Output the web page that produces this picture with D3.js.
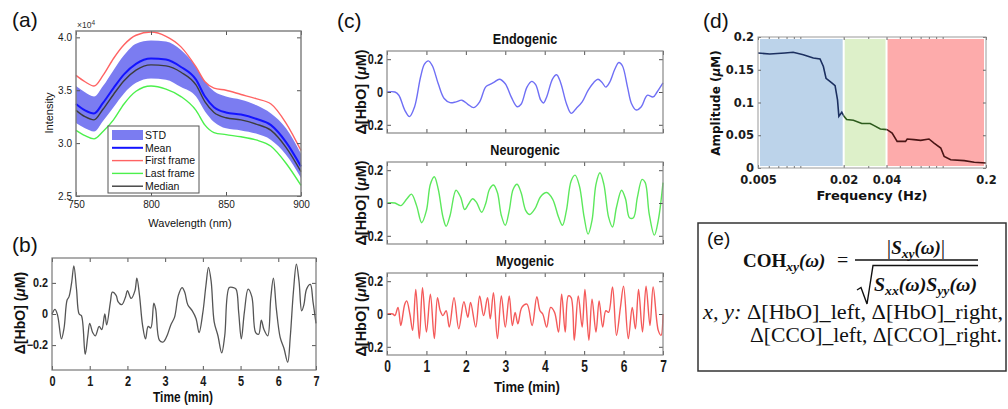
<!DOCTYPE html>
<html>
<head>
<meta charset="utf-8">
<script src="https://cdn.jsdelivr.net/npm/d3@7"></script>
<style>
  body { margin: 0; background: #fff; }
  svg { display: block; }
</style>
</head>
<body>
<svg id="fig" width="1008" height="409"></svg>
<script>
// ---------- data ----------
// (a) spectra, intensity in units of 1e4
const wavelengths = [750, 756, 762, 768, 775, 782, 790, 800, 810, 820, 830, 836, 842, 850, 860, 870, 880, 890, 900];
const firstFrame = [3.64, 3.58, 3.54, 3.64, 3.80, 3.93, 4.02, 4.05, 4.01, 3.91, 3.72, 3.58, 3.52, 3.50, 3.46, 3.42, 3.37, 3.19, 2.93];
const meanSpec   = [3.37, 3.31, 3.28, 3.38, 3.52, 3.65, 3.75, 3.80, 3.79, 3.72, 3.60, 3.44, 3.34, 3.29, 3.27, 3.23, 3.17, 3.01, 2.78];
const medianSpec = [3.31, 3.25, 3.22, 3.32, 3.46, 3.59, 3.69, 3.74, 3.73, 3.67, 3.55, 3.39, 3.29, 3.24, 3.22, 3.18, 3.12, 2.96, 2.73];
const lastFrame  = [3.12, 3.07, 3.04, 3.11, 3.22, 3.37, 3.49, 3.54, 3.51, 3.44, 3.31, 3.17, 3.10, 3.08, 3.06, 3.03, 2.97, 2.81, 2.60];
const stdUpper   = [3.54, 3.48, 3.44, 3.54, 3.69, 3.83, 3.94, 3.97, 3.96, 3.88, 3.72, 3.58, 3.49, 3.44, 3.41, 3.36, 3.28, 3.14, 2.90];
const stdLower   = [3.19, 3.14, 3.11, 3.21, 3.34, 3.47, 3.57, 3.61, 3.60, 3.53, 3.44, 3.30, 3.20, 3.14, 3.12, 3.09, 3.03, 2.89, 2.67];
const legendLabels = ['STD', 'Mean', 'First frame', 'Last frame', 'Median'];

// (b) raw HbO signal
const bTime = [0, 0.08, 0.15, 0.25, 0.32, 0.4, 0.45, 0.52, 0.58, 0.65, 0.72, 0.78, 0.88, 0.95, 1.0, 1.08, 1.15, 1.25, 1.32, 1.4,
  1.45, 1.55, 1.6, 1.7, 1.75, 1.85, 1.95, 2.0, 2.1, 2.2, 2.25, 2.32, 2.4, 2.48, 2.55, 2.62, 2.7, 2.75, 2.85, 2.95,
  3.05, 3.15, 3.25, 3.35, 3.45, 3.52, 3.6, 3.72, 3.82, 3.9, 4.0, 4.08, 4.15, 4.22, 4.3, 4.4, 4.5, 4.58, 4.7, 4.8,
  4.88, 4.95, 5.02, 5.1, 5.2, 5.3, 5.4, 5.48, 5.55, 5.62, 5.72, 5.8, 5.87, 5.95, 6.05, 6.15, 6.25, 6.32, 6.4, 6.48,
  6.55, 6.62, 6.68, 6.75, 6.85, 6.92, 7.0];
const bHbO = [0, 0.03, -0.01, -0.16, -0.09, 0.09, 0.11, 0.2, 0.31, 0.16, 0.0, -0.01, -0.26, -0.14, -0.06, -0.12, -0.14, -0.08, -0.1, 0.0,
  -0.07, 0.08, 0.14, 0.12, 0.08, 0.06, 0.11, 0.15, 0.10, 0.15, 0.23, 0.12, -0.07, -0.16, -0.08, -0.09, 0.07, 0.03, -0.17, -0.18,
  -0.14, -0.07, -0.02, 0.12, 0.17, 0.14, 0.06, 0.02, -0.03, -0.12, 0.01, 0.18, 0.30, 0.21, -0.05, -0.14, -0.25, -0.14, 0.17, 0.17,
  0.16, 0.01, -0.16, 0.01, 0.16, 0.11, -0.12, -0.13, -0.04, -0.1, -0.14, 0.10, 0.23, 0.03, -0.15, -0.22, -0.31, -0.14, 0.14, 0.32,
  0.21, 0.02, 0.06, 0.16, 0.19, 0.08, -0.06];

// (c) band-filtered components
const endoTime = [0, 0.2, 0.3, 0.45, 0.57, 0.7, 0.85, 0.95, 1.05, 1.15, 1.3, 1.45, 1.6, 1.75, 1.9, 2.05, 2.2, 2.35, 2.5, 2.6,
  2.72, 2.85, 3.0, 3.15, 3.3, 3.4, 3.55, 3.67, 3.77, 3.9, 3.97, 4.05, 4.2, 4.3, 4.4, 4.55, 4.67, 4.8, 4.95, 5.1,
  5.25, 5.35, 5.45, 5.55, 5.65, 5.78, 5.88, 5.97, 6.1, 6.2, 6.32, 6.45, 6.6, 6.75, 6.85, 7.0];
const endoVal = [0, 0, -0.02, -0.11, -0.15, -0.09, 0.09, 0.17, 0.19, 0.16, 0.05, -0.04, -0.065, -0.06, -0.05, -0.075, -0.095, -0.06, 0.03, 0.045,
  0.06, 0.078, 0.05, -0.03, -0.09, -0.075, 0.03, 0.065, 0.045, -0.05, -0.067, -0.03, 0.08, 0.105, 0.06, -0.07, -0.13, -0.10, -0.06, 0.01,
  0.06, 0.078, 0.06, 0.03, 0.06, 0.14, 0.18, 0.16, 0.03, -0.07, -0.11, -0.09, -0.02, -0.03, 0.0, 0.055];

const neuroTime = [0, 0.2, 0.35, 0.5, 0.62, 0.75, 0.88, 1.0, 1.1, 1.2, 1.3, 1.42, 1.5, 1.6, 1.75, 1.87, 1.97, 2.07, 2.17, 2.27,
  2.4, 2.5, 2.6, 2.7, 2.8, 2.9, 3.0, 3.1, 3.2, 3.3, 3.4, 3.52, 3.62, 3.75, 3.9, 4.05, 4.2, 4.35, 4.45, 4.55,
  4.67, 4.77, 4.88, 5.0, 5.1, 5.2, 5.3, 5.4, 5.5, 5.62, 5.72, 5.82, 5.95, 6.05, 6.15, 6.25, 6.35, 6.47, 6.55, 6.65,
  6.78, 6.88, 7.0];
const neuroVal = [0, 0, -0.016, 0.024, 0.054, -0.016, -0.12, -0.046, 0.114, 0.16, 0.084, -0.086, -0.142, -0.076, 0.078, 0.034, -0.04, -0.006, 0.026, 0.004,
  -0.056, -0.006, 0.084, 0.11, 0.064, -0.076, -0.136, -0.046, 0.084, 0.114, 0.064, -0.046, -0.07, -0.036, 0.04, 0.064, 0.024, -0.086, -0.136, -0.046,
  0.134, 0.17, 0.104, -0.086, -0.19, -0.106, 0.114, 0.184, 0.114, -0.086, -0.146, -0.026, 0.078, 0.024, -0.09, -0.09, 0.034, 0.144, 0.124, -0.066,
  -0.196, -0.106, 0.124];

const myoTime = [0, 0.15, 0.2, 0.28, 0.35, 0.45, 0.5, 0.58, 0.65, 0.73, 0.82, 0.9, 1.0, 1.1, 1.2, 1.28, 1.35, 1.42, 1.5, 1.58,
  1.7, 1.82, 1.95, 2.05, 2.12, 2.25, 2.35, 2.45, 2.55, 2.62, 2.7, 2.8, 2.9, 3.0, 3.1, 3.18, 3.25, 3.32, 3.42, 3.55,
  3.68, 3.8, 3.88, 3.95, 4.05, 4.15, 4.25, 4.35, 4.43, 4.52, 4.6, 4.67, 4.75, 4.85, 4.95, 5.02, 5.12, 5.2, 5.3, 5.38,
  5.47, 5.55, 5.62, 5.72, 5.82, 5.92, 6.0, 6.12, 6.22, 6.3, 6.38, 6.48, 6.57, 6.67, 6.75, 6.88, 6.95, 7.0];
const myoVal = [0, 0, -0.01, 0.04, -0.07, 0.06, 0.08, 0, -0.10, 0.15, -0.15, 0.16, -0.11, 0.12, -0.15, 0.10, 0.02, -0.01, 0.02, -0.08,
  0.10, -0.09, 0.075, -0.02, 0.07, -0.08, 0.11, -0.01, 0.10, -0.03, 0.13, -0.15, 0.11, -0.08, 0.11, -0.07, 0.01, -0.06, 0.04, 0.06,
  -0.07, 0.105, 0.02, 0, -0.08, 0.04, 0.01, -0.11, 0.12, -0.11, 0.11, 0.10, -0.16, 0.11, -0.08, 0.15, -0.16, 0.09, -0.11, 0.08,
  -0.08, 0.02, 0.01, 0.165, -0.13, 0.04, 0.17, -0.15, 0.04, -0.09, 0.15, -0.11, 0.17, -0.07, 0.165, -0.10, -0.13, 0];

const components = [
  { title: 'Endogenic', time: endoTime, val: endoVal, color: '#6f6ff5' },
  { title: 'Neurogenic', time: neuroTime, val: neuroVal, color: '#5ce85c' },
  { title: 'Myogenic', time: myoTime, val: myoVal, color: '#f45a5a' }
];

// (d) amplitude spectrum
const freq = [0.005, 0.00605, 0.00772, 0.00883, 0.0104, 0.01224, 0.01364, 0.0144, 0.01503, 0.0165, 0.0174, 0.0181, 0.0185, 0.0194, 0.0201,
  0.021, 0.0234, 0.0268, 0.0307, 0.0325, 0.0362, 0.0404, 0.0438, 0.0475, 0.0544, 0.0559, 0.0623, 0.0695, 0.0795, 0.0863,
  0.0962, 0.1016, 0.113, 0.1406, 0.1655, 0.2];
const amp = [0.1756, 0.174, 0.1756, 0.1766, 0.173, 0.168, 0.1664, 0.155, 0.137, 0.1298, 0.1257, 0.104, 0.079, 0.085, 0.079,
  0.074, 0.073, 0.068, 0.068, 0.065, 0.0596, 0.0585, 0.0534, 0.0407, 0.0407, 0.0443, 0.0433, 0.0422, 0.0443, 0.038,
  0.0305, 0.0178, 0.0127, 0.0112, 0.0087, 0.0076];
const bandEdges = [0.005, 0.02, 0.04, 0.2];
const bandFill = ['#bcd3ea', '#ddf0c9', '#fdabab'];
const bandLine = ['#1b2f60', '#2d5b1d', '#4a1515'];

// ---------- helpers ----------
const svg = d3.select('#fig');
const SANS = "'Liberation Sans', Arial, sans-serif";
const DEJA = "'DejaVu Sans', Verdana, sans-serif";
const SERIF = "'Liberation Serif', 'Times New Roman', serif";
const fmtSignal = d => d === 0 ? '0' : d3.format('.1f')(d);
const fmtInt = d3.format('d');

// squeeze text horizontally (the MATLAB panels use a condensed look)
function squeeze(sel, f) {
  if (!f || f === 1) return;
  sel.each(function() {
    const w = this.getComputedTextLength();
    if (w > 0) d3.select(this).attr('textLength', w * f).attr('lengthAdjust', 'spacingAndGlyphs');
  });
}

// box with inward ticks on all four sides (MATLAB style)
function frame(x, y, o) {
  const [x0, x1] = x.range();
  const [y0, y1] = y.range();
  const t = o.tick || 4;
  const g = svg.append('g');
  const gx = g.append('g').attr('transform', `translate(0,${y0})`)
    .call(d3.axisBottom(x).tickValues(o.xTicks).tickSizeInner(-t).tickSizeOuter(0)
      .tickPadding(o.xPad || 5).tickFormat(o.showX === false ? () => '' : (o.xFmt || null)));
  g.append('g').attr('transform', `translate(0,${y1})`)
    .call(d3.axisTop(x).tickValues(o.xTicks).tickSizeInner(-t).tickSizeOuter(0).tickFormat(() => ''));
  const gy = g.append('g').attr('transform', `translate(${x0},0)`)
    .call(d3.axisLeft(y).tickValues(o.yTicks).tickSizeInner(-t).tickSizeOuter(0)
      .tickPadding(o.yPad || 4).tickFormat(o.yFmt || null));
  g.append('g').attr('transform', `translate(${x1},0)`)
    .call(d3.axisRight(y).tickValues(o.yTicks).tickSizeInner(-t).tickSizeOuter(0).tickFormat(() => ''));
  g.selectAll('.domain').remove();
  g.selectAll('.tick line').attr('stroke', o.tickColor || '#555');
  g.selectAll('text')
    .attr('font-family', o.font).attr('font-weight', o.weight || 'normal').attr('fill', '#1a1a1a');
  gx.selectAll('text').attr('font-size', o.xSize || o.size);
  gy.selectAll('text').attr('font-size', o.ySize || o.size);
  squeeze(gx.selectAll('text'), o.xSq);
  squeeze(gy.selectAll('text'), o.ySq);
  g.append('rect')
    .attr('x', x0).attr('y', y1).attr('width', x1 - x0).attr('height', y0 - y1)
    .attr('fill', 'none').attr('stroke', o.boxColor || '#777').attr('stroke-width', o.boxWidth || 1.2);
  return g;
}

function label(txt, x, y, o) {
  const t = svg.append('text')
    .attr('x', x).attr('y', y)
    .attr('text-anchor', o.anchor || 'middle')
    .attr('font-family', o.font || SANS)
    .attr('font-size', o.size || 12)
    .attr('font-weight', o.weight || 'normal')
    .attr('fill', o.fill || '#111')
    .text(txt);
  if (o.rotate) t.attr('transform', `rotate(-90,${x},${y})`);
  squeeze(t, o.sq);
  return t;
}

// y label "Δ[HbO] (μM)" with italic mu
function hboLabel(x, y, size) {
  const t = svg.append('text')
    .attr('transform', `translate(${x},${y}) rotate(-90)`)
    .attr('text-anchor', 'middle')
    .attr('font-family', SANS).attr('font-size', size).attr('font-weight', 'bold').attr('fill', '#111');
  t.append('tspan').text('Δ[HbO] (');
  t.append('tspan').attr('font-style', 'italic').text('μ');
  t.append('tspan').text('M)');
}

// ---------- (a) spectra ----------
const xA = d3.scaleLinear([750, 900], [76, 301]);
const yA = d3.scaleLinear([2.5, 4.06], [196, 31]);
const specIdx = d3.range(wavelengths.length);
const lineA = arr => d3.line().x(i => xA(wavelengths[i])).y(i => yA(arr[i])).curve(d3.curveMonotoneX)(specIdx);

svg.append('path')
  .attr('d', d3.area().x(i => xA(wavelengths[i])).y0(i => yA(stdLower[i])).y1(i => yA(stdUpper[i]))
    .curve(d3.curveMonotoneX)(specIdx))
  .attr('fill', '#7b7cf1');
const specLines = [
  { data: firstFrame, color: '#ff6363', w: 1.4 },
  { data: lastFrame, color: '#4cf04c', w: 1.4 },
  { data: medianSpec, color: '#3c3c3c', w: 1.4 },
  { data: meanSpec, color: '#1414ff', w: 2 }
];
specLines.forEach(s => {
  svg.append('path').attr('d', lineA(s.data)).attr('fill', 'none')
    .attr('stroke', s.color).attr('stroke-width', s.w);
});
frame(xA, yA, { xTicks: [750, 800, 850, 900], yTicks: [2.5, 3, 3.5, 4], font: SANS, size: 10,
  xPad: 5, yPad: 4, boxColor: '#7a7a7a', boxWidth: 1.4 });

// legend
const legA = svg.append('g');
legA.append('rect').attr('x', 108).attr('y', 126).attr('width', 91).attr('height', 67)
  .attr('fill', '#fff').attr('stroke', '#555').attr('stroke-width', 1);
const legColors = ['#7b7cf1', '#1414ff', '#ff6363', '#4cf04c', '#3c3c3c'];
legendLabels.forEach((name, i) => {
  const yy = 135 + i * 12.8;
  if (i === 0) {
    legA.append('rect').attr('x', 112).attr('y', yy - 5).attr('width', 31).attr('height', 10).attr('fill', legColors[0]);
  } else {
    legA.append('line').attr('x1', 112).attr('x2', 143).attr('y1', yy).attr('y2', yy)
      .attr('stroke', legColors[i]).attr('stroke-width', i === 1 ? 2 : 1.4);
  }
  legA.append('text').attr('x', 145).attr('y', yy + 3.8).attr('font-family', SANS).attr('font-size', 10.5)
    .attr('fill', '#111').text(name);
});
const expo = svg.append('text').attr('x', 77).attr('y', 28).attr('font-family', SANS).attr('font-size', 8.5).attr('fill', '#333');
expo.append('tspan').text('×10');
expo.append('tspan').attr('dy', -3).attr('font-size', 6.5).text('4');
label('Intensity', 53, 113, { size: 11, rotate: true });
label('Wavelength (nm)', 190, 227, { size: 11 });
label('(a)', 12, 27, { size: 21, anchor: 'start' });

// ---------- (b) raw signal ----------
const xB = d3.scaleLinear([0, 7], [52, 316]);
const yB = d3.scaleLinear([-0.36, 0.36], [370, 258]);
svg.append('path')
  .attr('d', d3.line().x((d, i) => xB(bTime[i])).y(d => yB(d)).curve(d3.curveCatmullRom.alpha(0.5))(bHbO))
  .attr('fill', 'none').attr('stroke', '#555').attr('stroke-width', 1.3);
frame(xB, yB, { xTicks: d3.range(0, 8), yTicks: [-0.2, 0, 0.2], xFmt: fmtInt, yFmt: fmtSignal, font: SANS, weight: 'bold',
  xSize: 14, xSq: 0.78, ySize: 12, ySq: 0.9, xPad: 6, yPad: 4, boxColor: '#777', boxWidth: 1.2 });
hboLabel(25, 313, 14);
label('Time (min)', 183, 402, { size: 14, weight: 'bold', sq: 0.85 });
label('(b)', 12, 252, { size: 21, anchor: 'start' });

// ---------- (c) components ----------
const xC = d3.scaleLinear([0, 7], [387, 663]);
const cTops = [51, 162, 273];
components.forEach((c, k) => {
  const yC = d3.scaleLinear([-0.25, 0.25], [cTops[k] + 82, cTops[k]]);
  svg.append('path')
    .attr('d', d3.line().x((d, i) => xC(c.time[i])).y(d => yC(d)).curve(d3.curveCatmullRom.alpha(0.5))(c.val))
    .attr('fill', 'none').attr('stroke', c.color).attr('stroke-width', 1.4);
  frame(xC, yC, { xTicks: d3.range(0, 8), yTicks: [-0.2, 0, 0.2], xFmt: fmtInt, yFmt: fmtSignal, font: SANS, weight: 'bold',
    xSize: 16, xSq: 0.75, ySize: 14, ySq: 0.78, xPad: 6, yPad: 4, showX: k === 2, boxColor: '#888', boxWidth: 1.2 });
  label(c.title, 525, cTops[k] - 7, { size: 14, weight: 'bold', sq: 0.9 });
  hboLabel(366, cTops[k] + 41, 14.5);
});
label('Time (min)', 527, 392, { size: 15, weight: 'bold', sq: 0.87 });
label('(c)', 337, 28, { size: 21, anchor: 'start' });

// ---------- (d) amplitude spectrum ----------
const xD = d3.scaleLog([0.005, 0.2], [758, 986]);
const yD = d3.scaleLinear([0, 0.2], [168, 37]);
const defs = svg.append('defs');
bandFill.forEach((col, i) => {
  const xa = xD(bandEdges[i]), xb = xD(bandEdges[i + 1]);
  svg.append('rect').attr('x', xa + (i === 0 ? 2 : 1)).attr('y', yD(0.197))
    .attr('width', xb - xa - (i === 0 ? 3 : 2) - (i === 2 ? 1 : 0)).attr('height', yD(0.003) - yD(0.197))
    .attr('fill', col);
  defs.append('clipPath').attr('id', 'band' + i)
    .append('rect').attr('x', xa).attr('y', 30).attr('width', xb - xa).attr('height', 150);
});
const lineD = d3.line().x((d, i) => xD(freq[i])).y(d => yD(d));
bandLine.forEach((col, i) => {
  svg.append('path').attr('d', lineD(amp)).attr('clip-path', `url(#band${i})`)
    .attr('fill', 'none').attr('stroke', col).attr('stroke-width', 1.6);
});
const gD = frame(xD, yD, { xTicks: [0.005, 0.02, 0.04, 0.2], yTicks: [0, 0.05, 0.1, 0.15, 0.2],
  xFmt: d3.format(''), yFmt: d3.format(''), font: DEJA, size: 11.5, weight: 'bold',
  xPad: 8, yPad: 4, tick: 3, tickColor: '#666', boxColor: '#999', boxWidth: 1 });
// minor log ticks
const minorD = [0.006, 0.007, 0.008, 0.009, 0.01, 0.03, 0.05, 0.06, 0.07, 0.08, 0.09, 0.1];
[168, 37].forEach((yy, j) => {
  gD.selectAll(null).data(minorD).join('line')
    .attr('x1', d => xD(d)).attr('x2', d => xD(d))
    .attr('y1', yy).attr('y2', j === 0 ? yy - 2 : yy + 2)
    .attr('stroke', '#777').attr('stroke-width', 1);
});
const ampLab = svg.append('text').attr('transform', 'translate(720,103) rotate(-90)')
  .attr('text-anchor', 'middle').attr('font-family', DEJA).attr('font-size', 12).attr('font-weight', 'bold').attr('fill', '#111');
ampLab.append('tspan').text('Amplitude (');
ampLab.append('tspan').attr('font-style', 'italic').text('μ');
ampLab.append('tspan').text('M)');
label('Frequency (Hz)', 872, 200, { font: DEJA, size: 13, weight: 'bold' });
label('(d)', 703, 28, { size: 21, anchor: 'start' });

// ---------- (e) coherence formula ----------
svg.append('rect').attr('x', 698).attr('y', 223).attr('width', 308).attr('height', 148)
  .attr('fill', 'none').attr('stroke', '#333').attr('stroke-width', 1.5);
label('(e)', 707, 245, { size: 19, anchor: 'start' });

const coh = svg.append('text').attr('x', 743).attr('y', 267)
  .attr('font-family', SERIF).attr('font-size', 19).attr('font-weight', 'bold').attr('fill', '#111');
coh.append('tspan').text('COH');
coh.append('tspan').attr('font-style', 'italic').attr('font-size', 13.5).attr('dy', 4).text('xy');
coh.append('tspan').attr('font-style', 'italic').attr('dy', -4).text('(ω)');
svg.append('text').attr('x', 837).attr('y', 267).attr('font-family', SERIF).attr('font-size', 20)
  .attr('fill', '#111').text('=');

const num = svg.append('text').attr('x', 916).attr('y', 254).attr('text-anchor', 'middle')
  .attr('font-family', SERIF).attr('font-size', 19).attr('font-weight', 'bold').attr('font-style', 'italic').attr('fill', '#111');
num.append('tspan').attr('font-style', 'normal').attr('font-weight', 'normal').attr('font-size', 22).text('|');
num.append('tspan').text('S');
num.append('tspan').attr('font-size', 13.5).attr('dy', 4).text('xy');
num.append('tspan').attr('dy', -4).text('(ω)');
num.append('tspan').attr('font-style', 'normal').attr('font-weight', 'normal').attr('font-size', 22).text('|');

svg.append('line').attr('x1', 855).attr('x2', 978).attr('y1', 260).attr('y2', 260)
  .attr('stroke', '#111').attr('stroke-width', 1.4);
svg.append('path').attr('d', 'M857,290 L861,287.5 L867,304 L873,265.5 L978,265.5')
  .attr('fill', 'none').attr('stroke', '#111').attr('stroke-width', 1.4);

const den = svg.append('text').attr('x', 874).attr('y', 291)
  .attr('font-family', SERIF).attr('font-size', 19.5).attr('font-weight', 'bold').attr('font-style', 'italic').attr('fill', '#111')
  .attr('textLength', 103).attr('lengthAdjust', 'spacingAndGlyphs');
den.append('tspan').text('S');
den.append('tspan').attr('font-size', 13.5).attr('dy', 4).text('xx');
den.append('tspan').attr('dy', -4).text('(ω)S');
den.append('tspan').attr('font-size', 13.5).attr('dy', 4).text('yy');
den.append('tspan').attr('dy', -4).text('(ω)');

const l1 = svg.append('text').attr('x', 703).attr('y', 319)
  .attr('font-family', SERIF).attr('font-size', 21).attr('fill', '#111')
  .attr('textLength', 300).attr('lengthAdjust', 'spacingAndGlyphs');
l1.append('tspan').attr('font-style', 'italic').text('x, y:');
l1.append('tspan').text(' Δ[HbO]_left, Δ[HbO]_right,');
svg.append('text').attr('x', 750).attr('y', 342)
  .attr('font-family', SERIF).attr('font-size', 21).attr('fill', '#111')
  .attr('textLength', 252).attr('lengthAdjust', 'spacingAndGlyphs')
  .text('Δ[CCO]_left, Δ[CCO]_right.');
</script>
</body>
</html>
